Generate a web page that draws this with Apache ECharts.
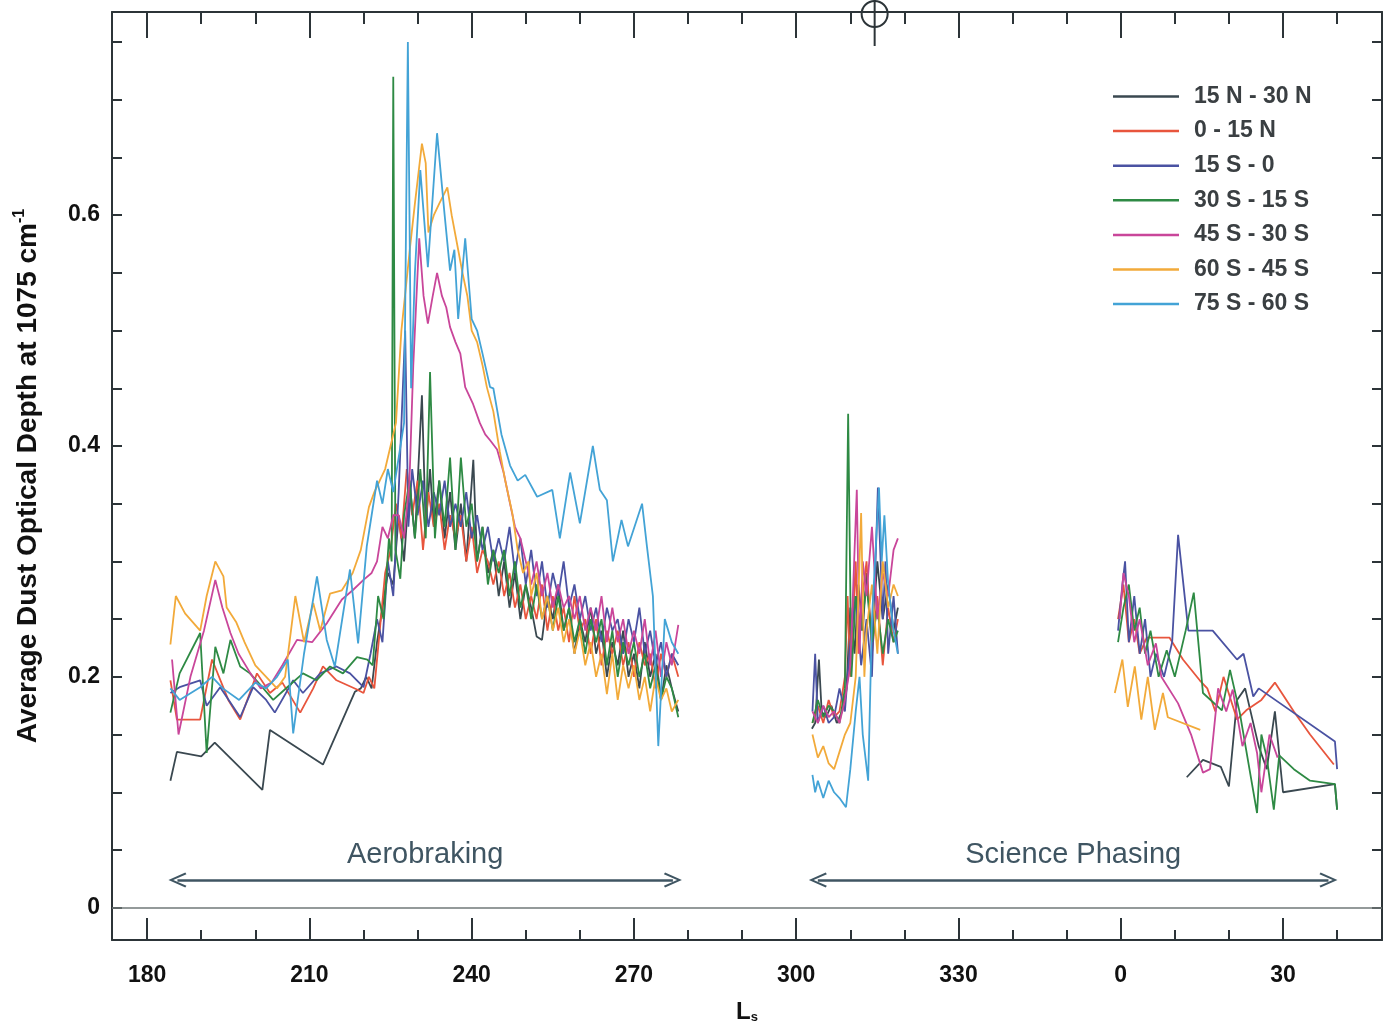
<!DOCTYPE html>
<html>
<head>
<meta charset="utf-8">
<script src="https://cdn.jsdelivr.net/npm/echarts@6/dist/echarts.min.js"></script>
<style>
html, body { margin: 0; padding: 0; background: #fff; }
#chart { width: 1384px; height: 1027px; }
</style>
</head>
<body>
<div id="chart"></div>
<script>
// latitude bands, in legend order
var bandNames = ['15 N - 30 N', '0 - 15 N', '15 S - 0', '30 S - 15 S', '45 S - 30 S', '60 S - 45 S', '75 S - 60 S'];

// axis ticks / labels (Ls past 360 is next Mars year)
var xLabelVals = [180, 210, 240, 270, 300, 330, 360, 390];
var xMinorVals = [190, 200, 220, 230, 250, 260, 280, 290, 310, 320, 340, 350, 370, 380, 400];
var yLabelVals = [0, 0.2, 0.4, 0.6];
var yTickVals = [0, 0.05, 0.1, 0.15, 0.2, 0.25, 0.3, 0.35, 0.4, 0.45, 0.5, 0.55, 0.6, 0.65, 0.7, 0.75];

// ---- aerobraking phase [Ls, tau] ----
var aero15N30N = [[184.3,0.11],[185.5,0.135],[190,0.131],[192.5,0.143],[201.3,0.102],[202.7,0.154],[212.5,0.124],[218.4,0.187],[219.5,0.19],[220.5,0.2],[221.5,0.19],[222.5,0.23],[223.5,0.26],[224.5,0.29],[225.5,0.28],[226.5,0.34],[227.5,0.3],[228.5,0.37],[229.5,0.32],[230.8,0.444],[231.5,0.33],[232.3,0.38],[233,0.33],[234,0.37],[235,0.32],[236,0.36],[237,0.31],[238,0.35],[239,0.3],[240.3,0.388],[241,0.3],[242,0.33],[243,0.29],[244,0.31],[245,0.27],[246,0.3],[247,0.26],[248,0.29],[249,0.25],[250,0.28],[251,0.26],[252,0.235],[253,0.232],[254,0.27],[255,0.25],[256,0.28],[257,0.24],[258,0.26],[259,0.22],[260,0.25],[261,0.23],[262,0.26],[263,0.22],[264,0.24],[265,0.2],[266,0.23],[267,0.21],[268,0.24],[269,0.2],[270,0.22],[271,0.19],[272,0.23],[273,0.2],[274,0.22],[275,0.18],[276,0.21],[277,0.19],[278.2,0.17]];
var aero0N15N = [[184.3,0.197],[185.5,0.163],[189.8,0.163],[192,0.215],[195,0.18],[197.2,0.163],[200.3,0.203],[202.7,0.186],[205,0.195],[208.3,0.169],[210.7,0.19],[212.5,0.209],[215,0.197],[218.8,0.189],[220,0.186],[221,0.2],[222,0.19],[223,0.24],[224,0.29],[225,0.31],[226,0.35],[227,0.32],[228,0.38],[229,0.34],[230,0.37],[231,0.31],[232,0.36],[233,0.33],[234,0.35],[235,0.31],[236,0.34],[237,0.32],[238,0.34],[239,0.3],[240,0.33],[241,0.29],[242,0.31],[243,0.3],[244,0.28],[245,0.3],[246,0.27],[247,0.29],[248,0.26],[249,0.28],[250,0.25],[251,0.27],[252,0.25],[253,0.28],[254,0.24],[255,0.27],[256,0.24],[257,0.26],[258,0.23],[259,0.27],[260,0.24],[261,0.25],[262,0.22],[263,0.25],[264,0.21],[265,0.24],[266,0.22],[267,0.24],[268,0.21],[269,0.23],[270,0.2],[271,0.23],[272,0.21],[273,0.22],[274,0.19],[275,0.22],[276,0.2],[277,0.22],[278.2,0.2]];
var aero15S0 = [[184.3,0.186],[186,0.191],[189.8,0.197],[191,0.175],[193.5,0.191],[197.2,0.165],[199.6,0.191],[202,0.18],[203.6,0.169],[207,0.197],[208.8,0.186],[212,0.203],[215,0.209],[217.5,0.203],[220,0.191],[221.3,0.22],[222.5,0.25],[223.5,0.23],[224.5,0.3],[225.5,0.27],[226.5,0.36],[227.7,0.5],[228.3,0.33],[229,0.38],[230,0.34],[231,0.37],[232,0.33],[233,0.36],[234,0.34],[235,0.37],[236,0.33],[237,0.35],[238,0.33],[239,0.36],[240,0.32],[241,0.34],[242,0.31],[243,0.33],[244,0.3],[245,0.32],[246,0.3],[247,0.33],[248,0.29],[249,0.32],[250,0.28],[251,0.31],[252,0.27],[253,0.3],[254,0.26],[255,0.29],[256,0.27],[257,0.3],[258,0.26],[259,0.28],[260,0.25],[261,0.27],[262,0.24],[263,0.26],[264,0.23],[265,0.26],[266,0.24],[267,0.25],[268,0.22],[269,0.25],[270,0.23],[271,0.26],[272,0.22],[273,0.24],[274,0.21],[275,0.23],[276,0.2],[277,0.22],[278.2,0.21]];
var aero30S15S = [[184.3,0.169],[186,0.203],[189.8,0.238],[191,0.134],[192.6,0.226],[194.1,0.203],[195.4,0.232],[197.2,0.209],[199,0.203],[201.3,0.191],[203.3,0.18],[205.9,0.191],[208.8,0.203],[211.3,0.197],[213.8,0.209],[216.2,0.203],[218.8,0.217],[220.7,0.215],[221.7,0.21],[222.7,0.27],[223.7,0.25],[224.7,0.32],[225.2,0.3],[225.5,0.72],[225.9,0.31],[226.8,0.285],[227.5,0.34],[228.5,0.37],[229.5,0.32],[230.5,0.38],[231.5,0.32],[232.3,0.464],[233.2,0.32],[234,0.37],[235,0.33],[236,0.39],[237,0.31],[238,0.39],[239,0.33],[240,0.35],[241,0.3],[242,0.33],[243,0.28],[244,0.31],[245,0.29],[246,0.31],[247,0.27],[248,0.3],[249,0.26],[250,0.28],[251,0.25],[252,0.28],[253,0.25],[254,0.27],[255,0.24],[256,0.27],[257,0.24],[258,0.26],[259,0.23],[260,0.25],[261,0.22],[262,0.25],[263,0.23],[264,0.25],[265,0.21],[266,0.24],[267,0.2],[268,0.23],[269,0.21],[270,0.23],[271,0.2],[272,0.22],[273,0.19],[274,0.21],[275,0.18],[276,0.2],[277,0.19],[278.2,0.165]];
var aero45S30S = [[184.6,0.215],[185.8,0.15],[188,0.2],[190.5,0.24],[192.6,0.284],[193.9,0.26],[195.4,0.238],[196.9,0.22],[199.1,0.203],[201,0.19],[203,0.195],[205,0.21],[207.7,0.232],[210.5,0.23],[213.3,0.247],[216,0.267],[218,0.275],[220,0.284],[221.5,0.29],[222.5,0.3],[223.5,0.33],[224.5,0.32],[225.5,0.34],[226.5,0.34],[227.5,0.32],[228.5,0.37],[229.2,0.47],[230.3,0.58],[231.1,0.53],[231.9,0.506],[232.8,0.53],[233.6,0.55],[234.5,0.53],[235.3,0.52],[236,0.503],[237,0.49],[237.9,0.48],[238.8,0.451],[240.2,0.437],[241.5,0.42],[242.5,0.41],[243.4,0.405],[244.7,0.397],[245.9,0.377],[247.1,0.35],[248,0.33],[249,0.32],[250,0.3],[251,0.28],[252,0.3],[253,0.27],[254,0.29],[255,0.26],[256,0.28],[257,0.26],[258,0.27],[259,0.25],[260,0.27],[261,0.24],[262,0.26],[263,0.24],[264,0.27],[265,0.23],[266,0.26],[267,0.23],[268,0.25],[269,0.22],[270,0.24],[271,0.22],[272,0.25],[273,0.21],[274,0.24],[275,0.2],[276,0.23],[277,0.21],[278.2,0.245]];
var aero60S45S = [[184.3,0.228],[185.3,0.27],[187,0.255],[189.8,0.24],[191,0.27],[192.6,0.3],[194.1,0.287],[194.7,0.26],[196.5,0.247],[198,0.23],[200,0.21],[202,0.2],[204,0.19],[205.5,0.2],[207.4,0.27],[209,0.23],[210.7,0.264],[212,0.24],[213.8,0.272],[216,0.275],[218,0.29],[219.5,0.31],[221,0.347],[222,0.36],[223,0.37],[224,0.38],[225,0.4],[226,0.42],[227,0.5],[228.6,0.572],[229.5,0.61],[230.8,0.662],[231.5,0.645],[232,0.585],[233,0.6],[234,0.61],[235.5,0.624],[236.3,0.6],[237.5,0.57],[238.3,0.55],[239.2,0.53],[240,0.5],[241,0.49],[242,0.47],[242.8,0.451],[244,0.43],[245.2,0.395],[246.2,0.37],[247.5,0.342],[248.5,0.31],[249.5,0.29],[250.5,0.3],[251,0.27],[252,0.29],[253,0.25],[254,0.27],[255,0.24],[256,0.26],[257,0.23],[258,0.25],[259,0.22],[260,0.24],[261,0.21],[262,0.23],[263,0.2],[264,0.22],[265,0.185],[266,0.22],[267,0.18],[268,0.21],[269,0.19],[270,0.21],[271,0.18],[272,0.2],[273,0.17],[274,0.2],[275,0.18],[276,0.19],[277,0.17],[278.2,0.18]];
var aero75S60S = [[184.3,0.19],[186,0.18],[189.8,0.191],[192,0.2],[194,0.19],[197,0.18],[200,0.195],[202,0.19],[204,0.2],[206,0.215],[207,0.151],[209,0.22],[211.4,0.287],[213.2,0.232],[214.7,0.209],[217.5,0.293],[219,0.229],[220.6,0.313],[221.5,0.34],[222.5,0.37],[223.5,0.35],[224.5,0.38],[225.5,0.36],[226.5,0.39],[227.5,0.42],[228.2,0.75],[228.8,0.45],[229.5,0.55],[230.5,0.639],[231.9,0.555],[233.6,0.671],[235,0.6],[236,0.552],[236.8,0.57],[237.5,0.51],[238.8,0.58],[240,0.51],[241,0.5],[242,0.48],[243.4,0.451],[244,0.45],[245.5,0.41],[247.1,0.383],[248.5,0.37],[249.9,0.375],[252.1,0.356],[254.9,0.362],[256.3,0.32],[258.2,0.377],[260,0.333],[262.4,0.4],[263.7,0.362],[265,0.353],[266.1,0.3],[267.7,0.336],[268.9,0.313],[271.5,0.35],[272.4,0.313],[273.5,0.27],[274.5,0.14],[275.7,0.25],[277,0.23],[278.2,0.22]];

// ---- science phasing, first stretch ----
var sci15N30N = [[302.9,0.155],[303.5,0.16],[304.2,0.215],[304.7,0.17],[305.5,0.165],[306.5,0.175],[307.5,0.16],[308.5,0.17],[309.3,0.19],[310,0.26],[310.8,0.22],[311.5,0.28],[312.3,0.24],[313,0.29],[314,0.23],[315,0.3],[316,0.25],[317,0.28],[318,0.24],[318.8,0.26]];
var sci0N15N = [[303,0.16],[304,0.175],[305,0.16],[306,0.18],[307,0.165],[308,0.17],[309,0.2],[309.5,0.27],[310,0.2],[311,0.3],[311.5,0.22],[312,0.26],[313,0.3],[314,0.22],[315,0.27],[316,0.21],[317,0.26],[318,0.23],[318.8,0.25]];
var sci15S0 = [[303,0.17],[303.5,0.22],[304,0.16],[305,0.175],[306,0.16],[307,0.165],[308,0.19],[309,0.17],[310,0.23],[311,0.27],[312,0.21],[313,0.25],[314,0.2],[315.1,0.364],[316,0.25],[316.5,0.3],[317,0.22],[318,0.27],[318.8,0.22]];
var sci30S15S = [[303,0.16],[304,0.18],[305,0.165],[306,0.175],[307,0.17],[308,0.16],[309,0.19],[309.6,0.428],[310.2,0.2],[311,0.27],[312,0.24],[313,0.28],[314,0.23],[315,0.26],[316,0.22],[317,0.25],[318,0.23],[318.8,0.24]];
var sci45S30S = [[303,0.17],[304,0.16],[305,0.175],[306,0.165],[307,0.17],[308,0.16],[309,0.18],[310,0.21],[311.2,0.362],[311.7,0.22],[312.3,0.3],[313,0.27],[314,0.33],[315,0.25],[316,0.29],[317,0.27],[318,0.31],[318.8,0.32]];
var sci60S45S = [[303,0.15],[304,0.13],[305,0.14],[306,0.125],[307,0.12],[308,0.135],[309,0.15],[310,0.16],[311,0.2],[312,0.342],[312.6,0.2],[313,0.24],[314,0.28],[315,0.22],[316,0.3],[317,0.26],[318,0.28],[318.8,0.27]];
var sci75S60S = [[303,0.115],[303.5,0.1],[304,0.11],[305,0.095],[306,0.11],[307,0.1],[308,0.095],[309.2,0.087],[310,0.12],[311,0.17],[311.7,0.2],[312.3,0.15],[313.3,0.11],[314,0.25],[315.3,0.364],[315.8,0.3],[316.3,0.34],[317,0.28],[318,0.24],[318.8,0.22]];

// ---- science phasing, after Ls 360 ----
var late15N30N = [[372.2,0.113],[375.2,0.128],[378.5,0.122],[380,0.105],[381.5,0.18],[383,0.19],[385.5,0.14],[387,0.12],[388.5,0.17],[390,0.1],[399.6,0.107],[400,0.085]];
var late0N15N = [[359.5,0.25],[360.5,0.28],[361.5,0.23],[362.5,0.25],[363.5,0.22],[364.8,0.234],[369,0.234],[371.5,0.215],[374.6,0.197],[376,0.19],[377.5,0.17],[379,0.2],[381.5,0.163],[383.2,0.171],[386,0.18],[388.5,0.195],[392,0.17],[395,0.15],[399.4,0.124]];
var late15S0 = [[359.5,0.24],[360.3,0.28],[360.8,0.3],[361.5,0.23],[362.5,0.27],[363.5,0.22],[364.5,0.25],[365.5,0.2],[366.5,0.22],[368,0.2],[369.5,0.23],[370.6,0.323],[372.5,0.24],[377,0.24],[381.5,0.215],[382.7,0.22],[384.5,0.183],[385.5,0.19],[399.6,0.144],[400,0.12]];
var late30S15S = [[359.5,0.23],[360.5,0.26],[361.5,0.28],[362.5,0.24],[363.5,0.26],[364.5,0.22],[365.5,0.24],[367,0.2],[368.5,0.223],[370,0.2],[372,0.24],[373.5,0.273],[375.2,0.186],[378.7,0.171],[380.2,0.206],[382,0.169],[385.2,0.082],[386,0.15],[387,0.13],[388.3,0.085],[389.3,0.132],[392,0.12],[395,0.11],[399.6,0.107],[400,0.085]];
var late45S30S = [[359.8,0.25],[360.5,0.29],[361.5,0.27],[362.5,0.23],[363.5,0.25],[365,0.21],[366.5,0.229],[367.5,0.2],[370.6,0.177],[373,0.15],[375.2,0.117],[376.5,0.12],[378,0.19],[379.5,0.17],[380.7,0.189],[382.5,0.14],[384,0.16],[385.2,0.134],[386,0.1],[387.5,0.15],[389,0.13]];
var late60S45S = [[358.9,0.186],[360.3,0.215],[361.3,0.174],[362.6,0.209],[363.8,0.163],[365,0.2],[366.3,0.154],[367.8,0.186],[368.7,0.165],[374.7,0.154]];
var late75S60S = [];

var aeroData = [aero15N30N, aero0N15N, aero15S0, aero30S15S, aero45S30S, aero60S45S, aero75S60S];
var sciData = [sci15N30N, sci0N15N, sci15S0, sci30S15S, sci45S30S, sci60S45S, sci75S60S];
var lateData = [late15N30N, late0N15N, late15S0, late30S15S, late45S30S, late60S45S, late75S60S];

var colors = ['#3a4850', '#e8553d', '#4a52a2', '#2e8a44', '#c9469a', '#f2aa3a', '#43a3d6'];

var chart = echarts.init(document.getElementById('chart'));

var series = [];
[aeroData, sciData, lateData].forEach(function (phase) {
    phase.forEach(function (d, i) {
        series.push({
            name: bandNames[i],
            type: 'line',
            data: d,
            symbol: 'none',
            color: colors[i],
            lineStyle: { width: 1.8, color: colors[i] },
            xAxisIndex: 0,
            yAxisIndex: 0,
            z: 3
        });
    });
});

// zero line
series.push({
    type: 'line', data: [[184.3, 0]], symbol: 'none', lineStyle: { opacity: 0 }, silent: true,
    markLine: {
        silent: true, symbol: ['none', 'none'], animation: false,
        lineStyle: { color: '#707878', width: 1.5, type: 'solid' },
        label: { show: false },
        data: [{ yAxis: 0 }]
    }
});

// phase arrows
var chevron = 'path://M0,12 L6,0 L12,12 L10.6,12.8 L6,3.4 L1.4,12.8 Z';
var arrowLabel = { show: true, position: 'middle', distance: 10, fontSize: 29, color: '#3f5562', fontFamily: 'Liberation Sans' };
series.push({
    type: 'line', data: [[185, 0.024]], symbol: 'none', lineStyle: { opacity: 0 }, silent: true,
    markLine: {
        silent: true, animation: false,
        symbol: [chevron, chevron], symbolSize: [15, 18],
        lineStyle: { color: '#3f5562', width: 2.5, type: 'solid' },
        data: [
            [{ coord: [185.6, 0.024], label: Object.assign({ formatter: 'Aerobraking' }, arrowLabel) }, { coord: [277.2, 0.024] }],
            [{ coord: [304, 0.024], label: Object.assign({ formatter: 'Science Phasing' }, arrowLabel) }, { coord: [398.4, 0.024] }]
        ]
    }
});

var xMin = 173.5, xMax = 408.3;
var axisDark = { lineStyle: { color: '#2c3438', width: 2 } };

chart.setOption({
    animation: false,
    backgroundColor: '#fff',
    textStyle: { fontFamily: 'Liberation Sans' },
    grid: { left: 112, right: 2, top: 12, bottom: 87, outerBoundsMode: 'none', containLabel: false },
    legend: {
        data: bandNames,
        orient: 'vertical',
        left: 1108,
        top: 80,
        icon: 'rect',
        itemWidth: 66,
        itemHeight: 2.5,
        itemGap: 11.6,
        selectedMode: false,
        textStyle: { fontSize: 23, fontWeight: 'bold', color: '#3a3f42', lineHeight: 22, padding: [0, 0, 0, 10], fontFamily: 'Liberation Sans' }
    },
    xAxis: [
        {
            type: 'value', position: 'bottom', min: xMin, max: xMax,
            axisLine: { show: true, onZero: false, lineStyle: axisDark.lineStyle },
            axisTick: { show: true, inside: true, length: 22, customValues: xLabelVals, lineStyle: { color: '#2c3438', width: 2 } },
            axisLabel: {
                customValues: xLabelVals, margin: 24, fontSize: 23, fontWeight: 'bold', color: '#111',
                formatter: function (v) { return String(v % 360); }
            },
            splitLine: { show: false },
            name: '{l|L}{s|s}', nameLocation: 'middle', nameGap: 60,
            nameTextStyle: {
                rich: {
                    l: { fontSize: 24, fontWeight: 'bold', color: '#111', lineHeight: 24, verticalAlign: 'top' },
                    s: { fontSize: 13, fontWeight: 'bold', color: '#111', lineHeight: 24, verticalAlign: 'bottom', padding: [0, 0, 0, 0] }
                }
            }
        },
        {
            type: 'value', position: 'bottom', min: xMin, max: xMax,
            axisLine: { show: false, onZero: false },
            axisTick: { show: true, inside: true, length: 10, customValues: xMinorVals, lineStyle: { color: '#2c3438', width: 2 } },
            axisLabel: { show: false }, splitLine: { show: false }
        },
        {
            type: 'value', position: 'top', min: xMin, max: xMax,
            axisLine: { show: true, onZero: false, lineStyle: axisDark.lineStyle },
            axisTick: { show: true, inside: true, length: 26, customValues: xLabelVals, lineStyle: { color: '#2c3438', width: 2 } },
            axisLabel: { show: false }, splitLine: { show: false }
        },
        {
            type: 'value', position: 'top', min: xMin, max: xMax,
            axisLine: { show: false, onZero: false },
            axisTick: { show: true, inside: true, length: 12, customValues: xMinorVals, lineStyle: { color: '#2c3438', width: 2 } },
            axisLabel: { show: false }, splitLine: { show: false }
        }
    ],
    yAxis: [
        {
            type: 'value', position: 'left', min: -0.028, max: 0.776,
            axisLine: { show: true, onZero: false, lineStyle: axisDark.lineStyle },
            axisTick: { show: true, inside: true, length: 10, customValues: yTickVals, lineStyle: { color: '#2c3438', width: 2 } },
            axisLabel: { customValues: yLabelVals, margin: 12, fontSize: 23, fontWeight: 'bold', color: '#111' },
            splitLine: { show: false },
            name: 'Average Dust Optical Depth at 1075 cm{sup|-1}',
            nameLocation: 'middle', nameGap: 68, nameRotate: 90,
            nameTextStyle: {
                fontSize: 28, fontWeight: 'bold', color: '#111', lineHeight: 32,
                rich: { sup: { fontSize: 16, fontWeight: 'bold', color: '#111', lineHeight: 32, verticalAlign: 'top' } }
            }
        },
        {
            type: 'value', position: 'right', min: -0.028, max: 0.776,
            axisLine: { show: true, onZero: false, lineStyle: axisDark.lineStyle },
            axisTick: { show: true, inside: true, length: 10, customValues: yTickVals, lineStyle: { color: '#2c3438', width: 2 } },
            axisLabel: { show: false }, splitLine: { show: false }
        }
    ],
    series: series
});

// marker on the top axis near Ls 314.5
var mx = chart.convertToPixel({ xAxisIndex: 0 }, 314.5);
chart.setOption({
    graphic: [
        { type: 'circle', shape: { cx: mx, cy: 14, r: 13 }, style: { fill: 'none', stroke: '#2c3438', lineWidth: 2 }, z: 10 },
        { type: 'line', shape: { x1: mx, y1: 0, x2: mx, y2: 46 }, style: { stroke: '#2c3438', lineWidth: 2 }, z: 10 }
    ]
});
</script>
</body>
</html>
